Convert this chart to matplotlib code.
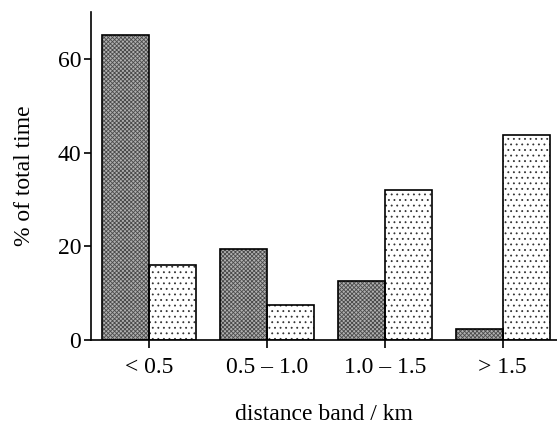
import numpy as np
import matplotlib.pyplot as plt

plt.rcParams['font.family'] = ['Liberation Serif', 'DejaVu Serif']
plt.rcParams['hatch.linewidth'] = 0.6

bands = ['< 0.5', '0.5 – 1.0', '1.0 – 1.5', '> 1.5']
dark_vals = [65.0, 19.5, 12.5, 2.3]
light_vals = [16.0, 7.4, 32.0, 43.7]

x = np.arange(len(bands))
w = 0.40

fig = plt.figure(figsize=(5.57, 4.24), dpi=100)
ax = fig.add_axes([0.1634, 0.198, 0.8366, 0.774])

ax.bar(x - w / 2, dark_vals, w, facecolor='#b0b0b0', edgecolor='#4a4a4a',
       hatch='xxxxxxxx', linewidth=0)
ax.bar(x + w / 2, light_vals, w, facecolor='white', edgecolor='#333333',
       hatch='...', linewidth=0)
# outlines drawn separately so the hatch colour does not affect them
ax.bar(x - w / 2, dark_vals, w, fill=False, edgecolor='black', linewidth=1.2)
ax.bar(x + w / 2, light_vals, w, fill=False, edgecolor='black', linewidth=1.2)

ax.set_xlim(-0.49, 3.46)
ax.set_ylim(0, 70)
ax.set_yticks([0, 20, 40, 60])
ax.set_xticks(x)
ax.set_xticklabels(bands)

for s in ['top', 'right']:
    ax.spines[s].set_visible(False)
for s in ['left', 'bottom']:
    ax.spines[s].set_linewidth(1.2)

ax.tick_params(axis='y', direction='out', length=5, width=1.2, labelsize=17, pad=2)
ax.tick_params(axis='x', direction='inout', length=12, width=1.2, labelsize=17, pad=6)

ax.set_ylabel('% of total time', fontsize=17, labelpad=16)
ax.set_xlabel('distance band / km', fontsize=17, labelpad=19)

fig.savefig('out.png', dpi=100)
